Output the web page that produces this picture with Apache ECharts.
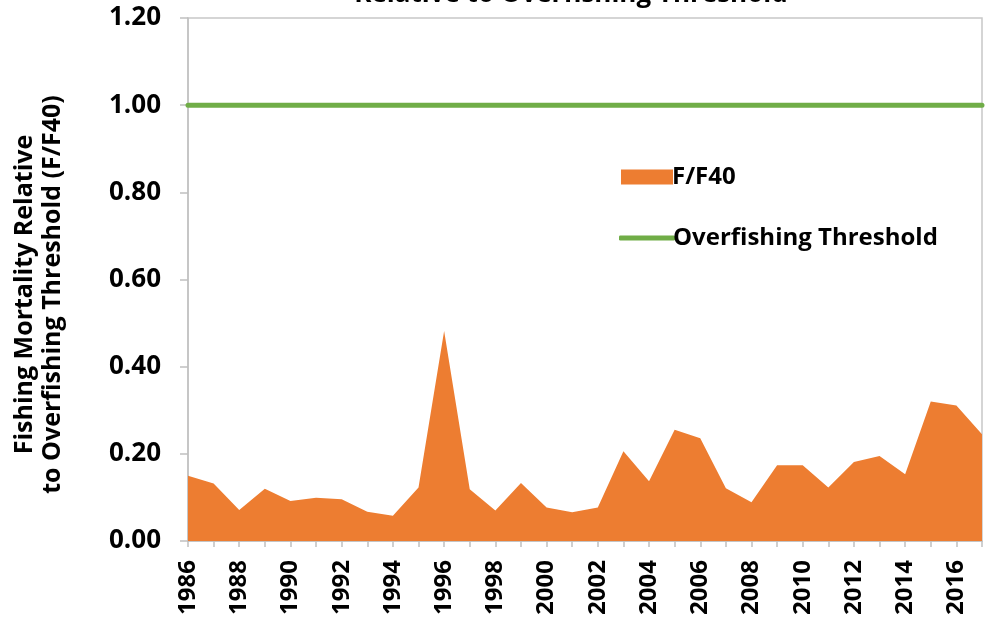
<!DOCTYPE html>
<html>
<head>
<meta charset="utf-8">
<script src="https://cdn.jsdelivr.net/npm/echarts@6/dist/echarts.min.js"></script>
<style>html,body{margin:0;padding:0;background:#fff}#c{width:985px;height:620px}</style>
</head>
<body>
<div id="c"></div>
<script>
var years = [];
for (var y = 1986; y <= 2017; y++) years.push(String(y));
var fF40 = [0.150,0.132,0.071,0.120,0.092,0.099,0.096,0.067,0.058,0.123,0.482,0.119,0.070,0.133,0.077,0.066,0.077,0.206,0.137,0.255,0.236,0.121,0.089,0.174,0.174,0.123,0.181,0.195,0.153,0.320,0.311,0.245];
var threshold = years.map(function(){ return 1.0; });
var titleText = 'Relative to Overfishing Threshold';
var yName = 'Fishing Mortality Relative\nto Overfishing Threshold (F/F40)';

var FONT = 'Open Sans';
var chart = echarts.init(document.getElementById('c'));
chart.setOption({
  animation: false,
  title: {
    text: titleText, left: 566, top: -23, textAlign: 'center',
    textStyle: {fontFamily: FONT, fontWeight: 'bold', fontSize: 26, color: '#000'}
  },
  legend: [{
    data: [{name: 'F/F40', icon: 'rect'}],
    left: 616, top: 160, itemWidth: 52, itemHeight: 15, itemGap: 4,
    textStyle: {fontFamily: FONT, fontWeight: 'bold', fontSize: 24, color: '#000', padding: [0,0,0,-6]}
  }, {
    data: [{name: 'Overfishing Threshold', icon: 'roundRect'}],
    left: 614, top: 221, itemWidth: 56, itemHeight: 5,
    itemStyle: {color: '#70AD47'},
    textStyle: {fontFamily: FONT, fontWeight: 'bold', fontSize: 24, color: '#000', padding: [0,0,0,-7]}
  }],
  grid: {left: 188, right: 3, top: 18, bottom: 79, outerBoundsMode: 'none', containLabel: false,
    show: true, borderColor: '#c8c8c8', borderWidth: 1.5},
  xAxis: {
    type: 'category', data: years, boundaryGap: false,
    axisLine: {lineStyle: {color: '#c0c0c0', width: 1.5}},
    axisTick: {show: true, interval: 0, length: 6, lineStyle: {color: '#c0c0c0', width: 1.5}},
    axisLabel: {interval: 1, rotate: 90, margin: 19, fontFamily: FONT, fontWeight: 'bold', fontSize: 24, color: '#000'}
  },
  yAxis: {
    type: 'value', min: 0, max: 1.2, interval: 0.2,
    name: yName, nameLocation: 'middle', nameGap: 121, nameRotate: 90,
    nameTextStyle: {fontFamily: FONT, fontWeight: 'bold', fontSize: 25, color: '#000', lineHeight: 28, padding: [0,0,0,-30]},
    axisLine: {show: true, lineStyle: {color: '#c0c0c0', width: 1.5}},
    axisTick: {show: true, length: 8, lineStyle: {color: '#c0c0c0', width: 1.5}},
    splitLine: {show: false},
    axisLabel: {margin: 27, fontFamily: FONT, fontWeight: 'bold', fontSize: 26, color: '#000',
      formatter: function(v){ return v.toFixed(2); }}
  },
  series: [{
    name: 'F/F40', type: 'line', data: fF40, symbol: 'none',
    lineStyle: {width: 0}, itemStyle: {color: '#ED7D31'},
    areaStyle: {color: '#ED7D31', opacity: 1}
  }, {
    name: 'Overfishing Threshold', type: 'line', data: threshold, symbol: 'none',
    lineStyle: {width: 5, color: '#70AD47', cap: 'round'}, itemStyle: {color: '#70AD47'}
  }]
});
</script>
</body>
</html>
